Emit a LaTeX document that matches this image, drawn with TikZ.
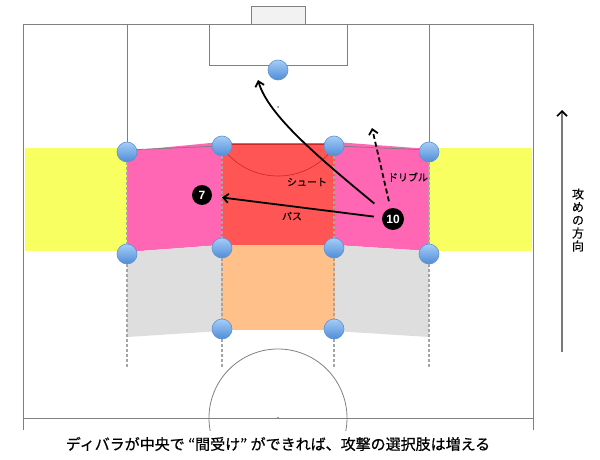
\documentclass[tikz,border=0pt]{standalone}
\usepackage{fontspec}
\setmainfont{Noto Sans CJK JP}
\newfontfamily\capfont[FakeBold=0.6]{Noto Sans CJK JP}
\newfontfamily\lblfont[FakeBold=0.3]{Noto Sans CJK JP}
\newfontfamily\numfont{Liberation Sans}
\usetikzlibrary{arrows.meta}
\definecolor{linegray}{RGB}{128,128,128}
\definecolor{dashgray}{RGB}{165,165,165}
\definecolor{zyellow}{RGB}{248,255,96}
\definecolor{zpink}{RGB}{255,102,180}
\definecolor{zred}{RGB}{255,85,85}
\definecolor{zorange}{RGB}{255,192,138}
\definecolor{zgray}{RGB}{222,222,222}
\definecolor{goalfill}{RGB}{242,242,242}
\definecolor{ptop}{RGB}{165,205,248}
\definecolor{pbot}{RGB}{80,140,215}
\definecolor{pedge}{RGB}{95,145,205}
\definecolor{arcred}{RGB}{200,40,40}
\definecolor{dirgray}{RGB}{120,120,120}
\begin{document}
\begin{tikzpicture}[x=1pt,y=-1pt,
  fieldline/.style={draw=linegray, line width=0.9pt},
  player/.style={circle, minimum size=20pt, inner sep=0pt, top color=ptop, bottom color=pbot, draw=pedge, line width=0.6pt},
  numbered/.style={circle, fill=black, text=white, font=\numfont\bfseries\fontsize{12}{12}\selectfont, inner sep=0pt},
  lane/.style={draw=dashgray, line width=1.3pt, dash pattern=on 3pt off 2pt},
  move/.style={line width=1.8pt, -{Straight Barb[length=5pt,width=9pt]}},
  lbl/.style={font=\lblfont\fontsize{10}{12}\selectfont, inner sep=0pt}
]
\useasboundingbox (0,0) rectangle (600,460);
\fill[white] (0,0) rectangle (600,460);

% goal
\filldraw[fill=goalfill, draw=linegray, line width=0.9pt] (251,6) rectangle (305,24);
% field
\draw[fieldline] (23,430) -- (23,24) -- (533,24) -- (533,430);
\draw[fieldline] (23,418) -- (533,418);
\draw[fieldline] (127,24) -- (127,150);
\draw[fieldline] (429,24) -- (429,150);
\draw[fieldline] (209,24) -- (209,65) -- (347,65) -- (347,24);

% zones
\fill[zyellow] (25,148) rectangle (127,251);
\fill[zyellow] (429,148) rectangle (532,251);
\fill[zpink] (127,151) -- (221,142) -- (221,245) -- (127,252) -- cycle;
\fill[zpink] (335,142) -- (429,149) -- (429,251) -- (335,245) -- cycle;
\fill[zred] (221,143) rectangle (335,246);
\fill[zorange] (221,245) rectangle (335,330);
\fill[zgray] (127,252) -- (221,245) -- (221,331) -- (127,337) -- cycle;
\fill[zgray] (335,245) -- (429,251) -- (429,337) -- (335,331) -- cycle;

% penalty line and arc
\draw[linegray, line width=0.8pt] (127,150) -- (221,146);
\draw[linegray, line width=0.8pt] (335,146) -- (429,150);
\draw[arcred, line width=0.6pt] (221,144) -- (335,144);
\begin{scope}
  \clip (221,144) rectangle (335,246);
  \draw[arcred, line width=0.6pt] (278,107) circle (69);
\end{scope}
\fill[linegray] (278,107) circle (1);

% centre circle
\begin{scope}
  \clip (0,0) rectangle (600,430);
  \draw[linegray, line width=0.8pt] (278,418) circle (69);
\end{scope}
\fill[linegray] (278,418) circle (1.2);

% players
\node[player] (pA) at (127,152) {};
\node[player] (pB) at (222,146) {};
\node[player] (pC) at (334,146) {};
\node[player] (pD) at (429,152) {};
\node[player] (pE) at (127,254) {};
\node[player] (pF) at (222,248) {};
\node[player] (pG) at (334,248) {};
\node[player] (pH) at (429,254) {};
\node[player] (pI) at (222,329) {};
\node[player] (pJ) at (334,329) {};
\node[player] (pK) at (278,70) {};

\coordinate (eA) at (127,367);
\coordinate (eB) at (222,367);
\coordinate (eC) at (334,367);
\coordinate (eD) at (429,367);
\draw[lane] (pA.south) -- (pE.north);
\draw[lane] (pE.south) -- (eA);
\draw[lane] (pB.south) -- (pF.north);
\draw[lane] (pF.south) -- (pI.north);
\draw[lane] (pI.south) -- (eB);
\draw[lane] (pC.south) -- (pG.north);
\draw[lane] (pG.south) -- (pJ.north);
\draw[lane] (pJ.south) -- (eC);
\draw[lane] (pD.south) -- (pH.north);
\draw[lane] (pH.south) -- (eD);

% numbered players
\node[numbered, minimum size=20pt] (n7) at (202,195) {7};
\node[numbered, minimum size=22pt] (n10) at (393,219) {10};

% moves
\coordinate (shotend) at (258,80);
\coordinate (dribend) at (372,128);
\draw[move, shorten <=13pt] (n10) .. controls (318,157) and (268,115) .. (shotend);
\draw[move, shorten <=8pt, shorten >=10pt] (n10) -- (n7);
\draw[move, dashed, dash pattern=on 5pt off 3pt, shorten <=7pt] (n10) -- (dribend);

\node[lbl] (lshot) at (307,182) {シュート};
\node[lbl] (lpass) at (292,216) {パス};
\node[lbl] (ldrib) at (408,177) {ドリブル};

% direction
\coordinate (dirbot) at (562,352);
\coordinate (dirtop) at (562,110);
\draw[dirgray, line width=2.4pt, -{Straight Barb[length=5pt,width=10pt,color=black,line width=1.6pt]}] (dirbot) -- (dirtop);
\node[font=\lblfont\fontsize{12}{13}\selectfont, align=center, inner sep=0pt] (dirlbl) at (578,220) {攻\\め\\の\\方\\向};

% caption
\node[font=\capfont\fontsize{15}{17}\selectfont, inner sep=0pt] (cap) at (278,444) {ディバラが中央で “間受け” ができれば、攻撃の選択肢は増える};
\end{tikzpicture}
\end{document}
